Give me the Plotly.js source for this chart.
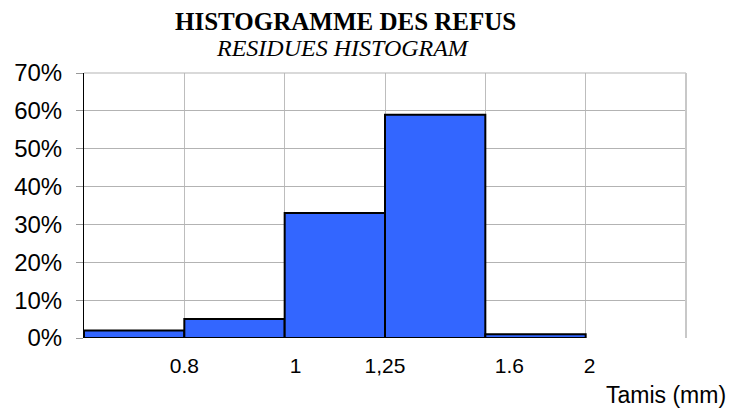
<!DOCTYPE html>
<html>
<head>
<meta charset="utf-8">
<script src="https://cdn.plot.ly/plotly-3.0.1.min.js"></script>
<style>html,body{margin:0;padding:0;background:#fff;}#chart{width:729px;height:410px;}</style>
</head>
<body>
<div id="chart"></div>
<script>
const classes = [0, 1, 2, 3, 4];
const refus = [0.02, 0.05, 0.33, 0.59, 0.01];
const tickLabels = ['0.8', '1', '1,25', '1.6', '2'];
const titleMain = 'HISTOGRAMME DES REFUS';
const titleSub = 'RESIDUES HISTOGRAM';
const xTitle = 'Tamis (mm)';

const trace = {
  type: 'bar',
  x: classes,
  y: refus,
  width: 1,
  marker: {color: '#3366ff', line: {color: '#000000', width: 2}},
  hoverinfo: 'skip'
};

const layout = {
  width: 729, height: 410,
  margin: {l: 84, r: 43, t: 73, b: 72, pad: 0},
  paper_bgcolor: '#ffffff', plot_bgcolor: '#ffffff',
  showlegend: false,
  bargap: 0,
  xaxis: {
    range: [-0.5, 5.5],
    tickmode: 'array',
    tickvals: [0.5, 1.61, 2.5, 3.74, 4.54],
    ticktext: tickLabels,
    showgrid: false,
    zeroline: false,
    showline: false,
    ticks: '',
    ticklabelstandoff: 13,
    tickfont: {family: 'Liberation Sans, Arial, sans-serif', size: 21, color: '#000'},
    minor: {tickmode: 'array', tickvals: [0.5, 1.5, 2.5, 3.5, 4.5, 5.5], showgrid: true, gridcolor: '#bdbdbd', gridwidth: 1, ticks: ''},
    fixedrange: true
  },
  yaxis: {
    range: [0, 0.7],
    dtick: 0.1,
    tickformat: '.0%',
    showgrid: true,
    gridcolor: '#b3b3b3',
    gridwidth: 1,
    zeroline: false,
    showline: true,
    linecolor: '#000000',
    linewidth: 1,
    ticks: 'outside',
    ticklen: 7,
    tickcolor: '#999999',
    ticklabelstandoff: 9,
    tickfont: {family: 'Liberation Sans, Arial, sans-serif', size: 24, color: '#000'},
    fixedrange: true
  },
  shapes: [
    {type: 'line', xref: 'paper', yref: 'paper', x0: 0, x1: 1, y0: 1, y1: 1, line: {color: '#b3b3b3', width: 1}},
    {type: 'line', xref: 'paper', yref: 'paper', x0: 1, x1: 1, y0: 0, y1: 1, line: {color: '#c8c8c8', width: 2}}
  ],
  annotations: [
    {text: '<b>' + titleMain + '</b>', xref: 'paper', yref: 'paper', x: 0.435, y: 1, yshift: 52, xanchor: 'center', yanchor: 'middle', showarrow: false,
     font: {family: 'Liberation Serif, Times New Roman, serif', size: 25, color: '#000'}},
    {text: '<i>' + titleSub + '</i>', xref: 'paper', yref: 'paper', x: 0.431, y: 1, yshift: 25, xanchor: 'center', yanchor: 'middle', showarrow: false,
     font: {family: 'Liberation Serif, Times New Roman, serif', size: 24, color: '#000'}},
    {text: xTitle, xref: 'paper', yref: 'paper', x: 1, xshift: 42, y: 0, yshift: -57, xanchor: 'right', yanchor: 'middle', showarrow: false,
     font: {family: 'Liberation Sans, Arial, sans-serif', size: 23, color: '#000'}}
  ]
};

Plotly.newPlot('chart', [trace], layout, {displayModeBar: false, staticPlot: true});
</script>
</body>
</html>
